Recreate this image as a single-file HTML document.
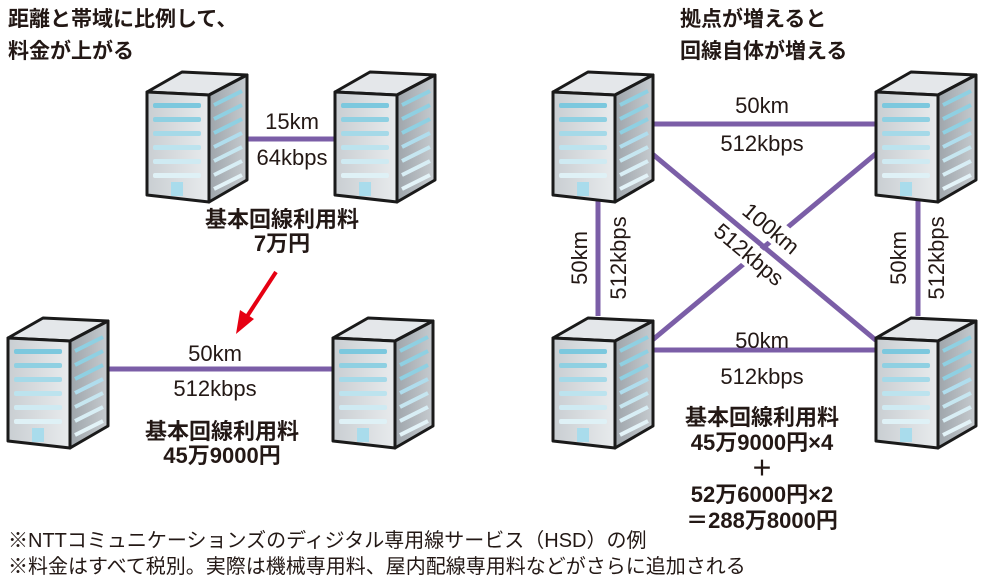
<!DOCTYPE html>
<html><head><meta charset="utf-8"><style>
body{margin:0;background:#fff}
svg{display:block}
text{font-family:"Liberation Sans","Noto Sans CJK JP",sans-serif;fill:#231815}
.b{font-weight:bold;font-size:22px}
.t{font-weight:bold;font-size:21px}
.n{font-size:22px}
</style></head><body>
<svg width="995" height="588" viewBox="0 0 995 588" xmlns="http://www.w3.org/2000/svg">
<defs>
<linearGradient id="fg" x1="0" x2="1"><stop offset="0" stop-color="#c9ced2"/><stop offset="1" stop-color="#e8ebed"/></linearGradient>
<linearGradient id="sg" x1="0" x2="1"><stop offset="0" stop-color="#9ea5ab"/><stop offset="1" stop-color="#c6cbcf"/></linearGradient>
<g id="srv">
<path d="M0,25 L35,5 L100,8 L62,28 Z" fill="#e4e7ea" stroke="#1a1a1a" stroke-width="3" stroke-linejoin="round"/>
<path d="M0,25 L62,28 L62,135 L0,128 Z" fill="url(#fg)" stroke="#1a1a1a" stroke-width="3" stroke-linejoin="round"/>
<path d="M62,28 L100,8 L100,113 L62,135 Z" fill="url(#sg)" stroke="#1a1a1a" stroke-width="3" stroke-linejoin="round"/>
<g fill="#7cc8de"><rect x="6" y="36" width="48" height="5" rx="2"/><rect x="6" y="50" width="48" height="5" rx="2" fill="#8fd0e2"/><rect x="6" y="64" width="48" height="5" rx="2" fill="#a5d9e8"/><rect x="6" y="78" width="48" height="5" rx="2" fill="#bce3ee"/><rect x="6" y="92" width="48" height="5" rx="2" fill="#cfeaf2"/><rect x="6" y="106" width="48" height="5" rx="2" fill="#dff1f6"/><rect x="24" y="115" width="12" height="14" fill="#a9dcec"/></g>
<g stroke="#8fd0e2" stroke-width="4"><line x1="67" y1="38" x2="95" y2="24"/><line x1="67" y1="52" x2="95" y2="38"/><line x1="67" y1="66" x2="95" y2="52"/><line x1="67" y1="80" x2="95" y2="66" stroke="#b0dded"/><line x1="67" y1="94" x2="95" y2="80" stroke="#c6e6f0"/><line x1="67" y1="108" x2="95" y2="94" stroke="#d8eef5"/><line x1="67" y1="122" x2="95" y2="108" stroke="#e3f3f8"/></g>
</g>
</defs>
<g stroke="#7b5ea7" stroke-width="5">
<line x1="246" y1="139" x2="337" y2="139"/>
<line x1="106" y1="369" x2="335" y2="369"/>
<line x1="648" y1="124" x2="878" y2="124"/>
<line x1="648" y1="350" x2="878" y2="350"/>
<line x1="598" y1="200" x2="598" y2="316"/>
<line x1="918" y1="200" x2="918" y2="316"/>
<line x1="650" y1="152" x2="878" y2="342"/>
<line x1="650" y1="342" x2="878" y2="152"/>
</g>
<use href="#srv" x="147" y="67"/>
<use href="#srv" x="335" y="67"/>
<use href="#srv" x="8" y="313"/>
<use href="#srv" x="333" y="313"/>
<use href="#srv" x="553" y="67"/>
<use href="#srv" x="876" y="67"/>
<use href="#srv" x="553" y="313"/>
<use href="#srv" x="876" y="313"/>
<text class="t" x="8" y="26">距離と帯域に比例して、</text>
<text class="t" x="8" y="58">料金が上がる</text>
<text class="t" x="680" y="26">拠点が増えると</text>
<text class="t" x="680" y="58">回線自体が増える</text>
<g class="n" text-anchor="middle">
<text x="292" y="129">15km</text><text x="292" y="165">64kbps</text>
<text x="215" y="361">50km</text><text x="215" y="396">512kbps</text>
<text x="762" y="113">50km</text><text x="762" y="151">512kbps</text>
<text x="762" y="348">50km</text><text x="762" y="384">512kbps</text>
<text transform="translate(587,258) rotate(-90)">50km</text>
<text transform="translate(626,258) rotate(-90)">512kbps</text>
<text transform="translate(906,258) rotate(-90)">50km</text>
<text transform="translate(944,258) rotate(-90)">512kbps</text>
</g>
<g transform="translate(768,232) rotate(40)"><rect x="-34" y="-17" width="68" height="24" fill="#fff"/><text class="n" x="0" y="3" text-anchor="middle">100km</text></g>
<g transform="translate(746,258) rotate(40)"><rect x="-44" y="-17" width="88" height="24" fill="#fff"/><text class="n" x="0" y="3" text-anchor="middle">512kbps</text></g>
<g class="b" text-anchor="middle">
<text x="282" y="227">基本回線利用料</text><text x="282" y="251">7万円</text>
<text x="222" y="439">基本回線利用料</text><text x="222" y="463">45万9000円</text>
<text x="762" y="425">基本回線利用料</text><text x="762" y="450">45万9000円×4</text>
<text x="762" y="476">＋</text>
<text x="762" y="502">52万6000円×2</text><text x="762" y="528">＝288万8000円</text>
</g>
<line x1="276" y1="272" x2="246" y2="318" stroke="#e60012" stroke-width="4"/>
<path d="M236,334 L240,310 L254,319 Z" fill="#e60012"/>
<text x="8" y="547" style="font-size:20px">※NTTコミュニケーションズのディジタル専用線サービス（HSD）の例</text>
<text x="8" y="573" style="font-size:20px">※料金はすべて税別。実際は機械専用料、屋内配線専用料などがさらに追加される</text>
</svg>
</body></html>
